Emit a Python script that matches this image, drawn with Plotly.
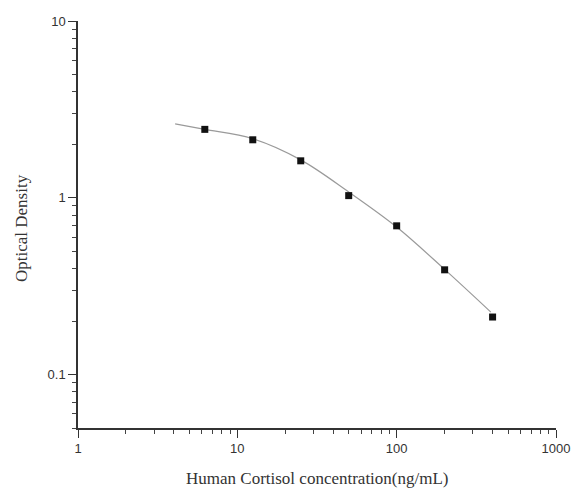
import plotly.graph_objects as go
import math

# Standards (measured points)
conc = [6.25, 12.5, 25, 50, 100, 200, 400]
od = [2.44, 2.13, 1.62, 1.03, 0.695, 0.392, 0.212]

# Fitted curve
curve_x = [4.07, 6.25, 12.5, 25, 50, 100, 200, 390]
curve_y = [2.62, 2.44, 2.16, 1.64, 1.08, 0.684, 0.394, 0.226]

x_ticks = [1, 10, 100, 1000]
x_tick_text = ["1", "10", "100", "1000"]
y_ticks = [0.1, 1, 10]
y_tick_text = ["0.1", "1", "10"]

x_title = "Human Cortisol concentration(ng/mL)"
y_title = "Optical Density"

fig = go.Figure()
fig.add_trace(go.Scatter(x=curve_x, y=curve_y, mode="lines",
                         line=dict(color="#9a9a9a", width=1.2, shape="spline", smoothing=1.0),
                         hoverinfo="skip", showlegend=False))
fig.add_trace(go.Scatter(x=conc, y=od, mode="markers",
                         marker=dict(symbol="square", size=7, color="#111111"),
                         showlegend=False))

axis_common = dict(type="log", showgrid=False, zeroline=False, showline=True, automargin=False,
                   linecolor="#333333", linewidth=1.5, ticks="outside", ticklen=8,
                   tickwidth=1.3, tickcolor="#333333", ticklabeloverflow="allow",
                   tickfont=dict(family="Liberation Sans, Arial", size=13, color="#333333"),
                   minor=dict(ticks="outside", ticklen=4, tickwidth=1, tickcolor="#444444",
                              dtick="D1", showgrid=False))

title_font = dict(family="Liberation Serif, Times New Roman", size=17, color="#333333")

fig.update_layout(
    width=573, height=496,
    margin=dict(l=78, r=17, t=21, b=68),
    paper_bgcolor="white", plot_bgcolor="white",
    xaxis=dict(axis_common, range=[0, 3], tickvals=x_ticks, ticktext=x_tick_text),
    yaxis=dict(axis_common, range=[math.log10(0.05), 1], tickvals=y_ticks, ticktext=y_tick_text),
    annotations=[
        dict(text=x_title, xref="paper", yref="paper", x=(317 - 78) / 478, y=(428 - 478) / 407,
             xanchor="center", yanchor="middle", showarrow=False, font=title_font),
        dict(text=y_title, xref="paper", yref="paper", x=(22 - 78) / 478, y=(428 - 228) / 407,
             xanchor="center", yanchor="middle", textangle=-90, showarrow=False, font=title_font),
    ],
)

fig.write_html("out.html", config={"displayModeBar": False},
               post_script="document.body.style.margin='0';document.body.style.overflow='hidden';")
